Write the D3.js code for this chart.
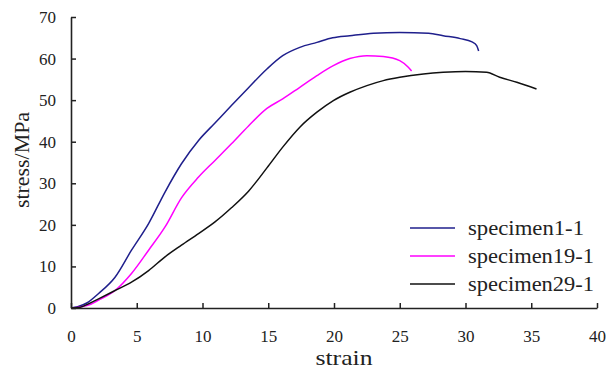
<!DOCTYPE html>
<html>
<head>
<meta charset="utf-8">
<script src="https://cdn.jsdelivr.net/npm/d3@7"></script>
<style>
  html, body { margin: 0; padding: 0; background: #fff; }
  svg { display: block; }
  svg text { font-family: "Liberation Serif", "Times New Roman", serif !important; fill: #222; }
</style>
</head>
<body>
<svg id="chart" width="616" height="372"></svg>
<script>
const seriesNames = ["specimen1-1", "specimen19-1", "specimen29-1"];
const seriesColors = ["#1f1f8c", "#ff00ff", "#111111"];

const strain1 = [0, 0.5, 1.2, 2.1, 3.35, 4.6, 5.9, 7.15, 8.4, 9.7, 10.95, 12.2, 13.5, 14.9, 16.1, 17.4, 18.7, 19.9, 21.2, 23, 25, 27.2, 28.3, 29.6, 30.5, 30.85, 31];
const stress1 = [0, 0.3, 1.2, 3.5, 7.4, 13.9, 20.3, 27.9, 34.7, 40.3, 44.5, 48.7, 53, 57.5, 60.7, 62.7, 63.9, 65, 65.5, 66.1, 66.3, 66.1, 65.5, 64.8, 64, 63.1, 61.8];

const strain19 = [0, 0.8, 1.5, 2.1, 3.35, 4.6, 5.9, 7.15, 8.4, 9.7, 10.95, 12.2, 13.5, 14.9, 16.1, 17.4, 18.7, 19.95, 21.2, 22.5, 23.75, 25, 25.65, 25.9];
const stress19 = [0, 0.3, 0.9, 1.9, 4.2, 8.3, 13.9, 19.5, 26.5, 31.5, 35.5, 39.5, 43.8, 48, 50.3, 53.1, 55.9, 58.3, 60, 60.7, 60.5, 59.5, 57.9, 57];

const strain29 = [0, 0.7, 1.2, 2.1, 3.35, 4.6, 5.9, 7.15, 8.4, 9.7, 10.95, 12.2, 13.5, 14.9, 16.1, 17.4, 18.7, 19.95, 21.2, 22.5, 23.75, 25, 26.8, 28.3, 30, 31.6, 32.6, 33.9, 35.4];
const stress29 = [0, 0.2, 0.8, 2.2, 4.2, 6.2, 9, 12.3, 15.1, 17.9, 20.7, 24.1, 28.1, 33.7, 38.7, 43.5, 47.1, 49.9, 51.9, 53.5, 54.7, 55.5, 56.3, 56.7, 56.9, 56.7, 55.5, 54.3, 52.7];

const xTicks = [0, 5, 10, 15, 20, 25, 30, 35, 40];
const yTicks = [0, 10, 20, 30, 40, 50, 60, 70];

const series = [
  { name: seriesNames[0], color: seriesColors[0], pts: strain1.map((s, i) => [s, stress1[i]]) },
  { name: seriesNames[1], color: seriesColors[1], pts: strain19.map((s, i) => [s, stress19[i]]) },
  { name: seriesNames[2], color: seriesColors[2], pts: strain29.map((s, i) => [s, stress29[i]]) }
];

const svg = d3.select("#chart");
const x = d3.scaleLinear().domain([0, 40]).range([71, 597]);
const y = d3.scaleLinear().domain([0, 70]).range([308, 17]);

const line = d3.line().x(d => x(d[0])).y(d => y(d[1])).curve(d3.curveMonotoneX);

svg.append("g").selectAll("path").data(series).join("path")
  .attr("d", d => line(d.pts))
  .attr("fill", "none")
  .attr("stroke", d => d.color)
  .attr("stroke-width", 1.5)
  .attr("stroke-linejoin", "round");

const xAxis = svg.append("g").attr("transform", "translate(0,308)")
  .call(d3.axisBottom(x).tickValues(xTicks).tickFormat(d3.format("d"))
    .tickSizeInner(-5).tickSizeOuter(0).tickPadding(22));
const yAxis = svg.append("g").attr("transform", "translate(71,0)")
  .call(d3.axisLeft(y).tickValues(yTicks).tickFormat(d3.format("d"))
    .tickSizeInner(-5).tickSizeOuter(0).tickPadding(15));

[xAxis, yAxis].forEach(g => {
  g.attr("font-family", "Liberation Serif").attr("font-size", 17);
  g.select(".domain").attr("stroke", "#222").attr("stroke-width", 1.6);
  g.selectAll(".tick line").attr("stroke", "#222").attr("stroke-width", 1.5);
  g.selectAll(".tick text")
    .attr("font-family", "Liberation Serif")
    .style("font-size", "17px").attr("fill", "#222");
});

svg.append("text")
  .attr("x", 344).attr("y", 365)
  .attr("text-anchor", "middle")
  .style("font-size", "22px")
  .attr("textLength", 57).attr("lengthAdjust", "spacingAndGlyphs")
  .text("strain");

svg.append("text")
  .attr("transform", "translate(29,160) rotate(-90)")
  .attr("text-anchor", "middle")
  .style("font-size", "22px")
  .attr("textLength", 96).attr("lengthAdjust", "spacingAndGlyphs")
  .text("stress/MPa");

const legend = svg.append("g");
const legY = [228, 256, 284];
series.forEach((s, i) => {
  legend.append("line")
    .attr("x1", 410).attr("x2", 455)
    .attr("y1", legY[i]).attr("y2", legY[i])
    .attr("stroke", s.color).attr("stroke-width", 1.5);
  legend.append("text")
    .attr("x", 468).attr("y", legY[i] + 7)
    .style("font-size", "21px")
    .attr("textLength", i === 0 ? 116 : 126).attr("lengthAdjust", "spacingAndGlyphs")
    .text(s.name);
});
</script>
</body>
</html>
